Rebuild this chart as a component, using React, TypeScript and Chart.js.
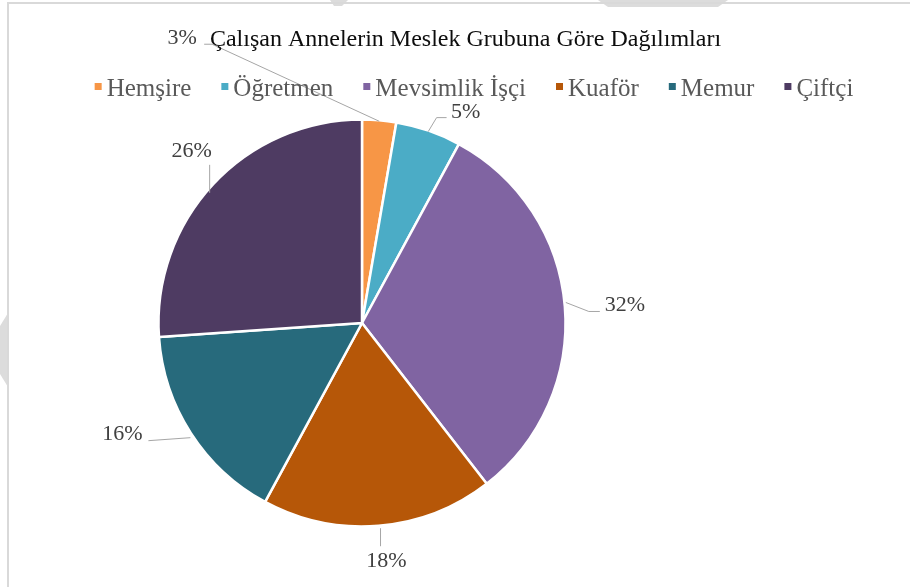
import React, { useEffect, useRef } from 'react';
import { Chart, registerables } from 'chart.js';

Chart.register(...registerables);

const TITLE = 'Çalışan Annelerin Meslek Grubuna Göre Dağılımları';
const categories = ['Hemşire', 'Öğretmen', 'Mevsimlik İşçi', 'Kuaför', 'Memur', 'Çiftçi'];
const shares = [2.7, 5.2, 31.6, 18.4, 16.0, 26.1];
const sliceColors = ['#F79646', '#4BACC6', '#8064A2', '#B65708', '#276A7C', '#4E3B62'];

// label placement relative to the outer middle point of each slice
const labelLayout = [
  { text: [-197, -83], path: [[0, 0], [-167, -77], [-175, -77]] },
  { text: [37.5, -19], path: [[0, 0], [8.4, -14], [18.4, -14]] },
  { text: [61, -1], path: [[2, -4], [25, 5], [36, 5]] },
  { text: [8, 36.4], path: [[2, 3.4], [2, 21.4]] },
  { text: [-69.3, 2.1], path: [[-1.3, 5.1], [-43.3, 8.1]] },
  { text: [-22.3, -33.9], path: [[-4.3, 8], [-4.3, -20]] },
];

const FONT = '"Liberation Serif", "Times New Roman", serif';

const decorPlugin = {
  id: 'decor',
  beforeDraw(chart: any) {
    const ctx = chart.ctx;
    ctx.save();
    ctx.fillStyle = '#ffffff';
    ctx.fillRect(0, 0, chart.width, chart.height);
    ctx.fillStyle = '#dcdcdc';
    // watermark fragments
    ctx.beginPath();
    ctx.moveTo(0, 326); ctx.lineTo(8, 313); ctx.lineTo(8, 387); ctx.lineTo(0, 374); ctx.closePath();
    ctx.fill();
    ctx.beginPath();
    ctx.moveTo(598, 0); ctx.lineTo(728, 0); ctx.lineTo(718, 7); ctx.lineTo(608, 7); ctx.closePath();
    ctx.fill();
    ctx.beginPath();
    ctx.moveTo(330, 0); ctx.lineTo(348, 0); ctx.lineTo(342, 6); ctx.lineTo(334, 6); ctx.closePath();
    ctx.fill();
    // frame
    ctx.fillStyle = '#d9d9d9';
    ctx.fillRect(7, 2, chart.width - 7, 2);
    ctx.fillRect(7, 2, 2, chart.height - 2);
    ctx.restore();
  },
  afterDraw(chart: any) {
    const ctx = chart.ctx;
    ctx.save();
    // title
    ctx.fillStyle = '#0d0d0d';
    ctx.font = `24px ${FONT}`;
    ctx.textAlign = 'center';
    ctx.textBaseline = 'alphabetic';
    ctx.fillText(TITLE, 465.5, 46);
    // legend
    ctx.font = `25px ${FONT}`;
    ctx.textAlign = 'left';
    const box = 7, boxGap = 5, itemGap = 30;
    const widths = categories.map((c) => ctx.measureText(c).width);
    const total = widths.reduce((a, w) => a + box + boxGap + w, 0) + itemGap * (categories.length - 1);
    let x = 474 - total / 2;
    categories.forEach((c, i) => {
      ctx.fillStyle = sliceColors[i];
      ctx.fillRect(x, 83, box, box);
      ctx.fillStyle = '#595959';
      ctx.fillText(c, x + box + boxGap, 96);
      x += box + boxGap + widths[i] + itemGap;
    });
    ctx.restore();
  },
};

const labelPlugin = {
  id: 'sliceLabels',
  afterDatasetsDraw(chart: any) {
    const ctx = chart.ctx;
    const meta = chart.getDatasetMeta(0);
    const sum = shares.reduce((a, b) => a + b, 0);
    ctx.save();
    meta.data.forEach((arc: any, i: number) => {
      const p = arc.getProps(['x', 'y', 'startAngle', 'endAngle', 'outerRadius'], true);
      const mid = (p.startAngle + p.endAngle) / 2;
      const R = p.outerRadius - 1;
      const ex = p.x + R * Math.cos(mid);
      const ey = p.y + R * Math.sin(mid);
      const L = labelLayout[i];
      ctx.strokeStyle = '#a6a6a6';
      ctx.lineWidth = 1;
      ctx.beginPath();
      L.path.forEach((pt, k) => {
        if (k === 0) ctx.moveTo(ex + pt[0], ey + pt[1]);
        else ctx.lineTo(ex + pt[0], ey + pt[1]);
      });
      ctx.stroke();
      ctx.fillStyle = '#404040';
      ctx.font = `22px ${FONT}`;
      ctx.textAlign = 'center';
      ctx.textBaseline = 'middle';
      ctx.fillText(Math.round((shares[i] / sum) * 100) + '%', ex + L.text[0], ey + L.text[1]);
    });
    ctx.restore();
  },
};

export default function App() {
  const ref = useRef<HTMLCanvasElement | null>(null);
  useEffect(() => {
    document.body.style.margin = '0';
    if (!ref.current) return;
    const chart = new Chart(ref.current, {
      type: 'pie',
      data: {
        labels: categories,
        datasets: [
          {
            data: shares,
            backgroundColor: sliceColors,
            borderColor: '#ffffff',
            borderWidth: 2.5,
          },
        ],
      },
      options: {
        responsive: false,
        animation: false,
        radius: 203.5,
        layout: { padding: { left: 98, right: 284, top: 102, bottom: 43 } },
        plugins: {
          legend: { display: false },
          title: { display: false },
          tooltip: { enabled: false },
        },
      } as any,
      plugins: [decorPlugin, labelPlugin],
    });
    return () => chart.destroy();
  }, []);
  return (
    <div style={{ width: 910, height: 587 }}>
      <canvas ref={ref} width={910} height={587} style={{ display: 'block' }} />
    </div>
  );
}
